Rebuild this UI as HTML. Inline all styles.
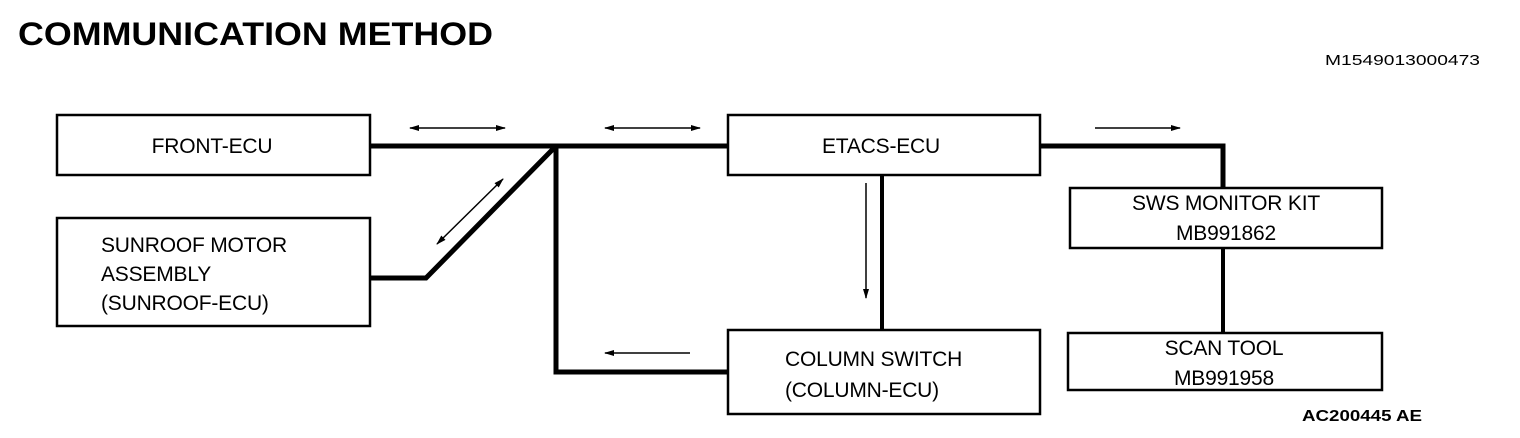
<!DOCTYPE html>
<html><head><style>
body{margin:0;background:#fff;}
svg{display:block;font-family:"Liberation Sans",Arial,sans-serif;}
</style></head><body>
<svg width="1520" height="438" viewBox="0 0 1520 438" xmlns="http://www.w3.org/2000/svg">
<defs>
<marker id="a" markerWidth="10" markerHeight="8" refX="9" refY="4" orient="auto-start-reverse" markerUnits="userSpaceOnUse"><path d="M0,1 L10,4 L0,7 Z" fill="#000"/></marker>
</defs>
<text x="18" y="45" font-size="32" font-weight="bold" textLength="475" lengthAdjust="spacingAndGlyphs">COMMUNICATION METHOD</text>
<text x="1325" y="65" font-size="15" textLength="155" lengthAdjust="spacingAndGlyphs">M1549013000473</text>
<text x="1302" y="421" font-size="16" font-weight="bold" textLength="120" lengthAdjust="spacingAndGlyphs">AC200445 AE</text>
<g fill="none" stroke="#000" stroke-width="2.5">
<rect x="57" y="115" width="313" height="60"/>
<rect x="57" y="218" width="313" height="108"/>
<rect x="728" y="115" width="312" height="60"/>
<rect x="728" y="330" width="312" height="84"/>
<rect x="1070" y="188" width="312" height="60"/>
<rect x="1068" y="333" width="314" height="57"/>
</g>
<g fill="none" stroke="#000" stroke-width="5">
<polyline points="370,146 728,146"/>
<polyline points="370,278 426,278 556,146"/>
<polyline points="556,146 556,372 728,372"/>
<polyline points="1040,146 1223,146 1223,188"/>
</g>
<g fill="none" stroke="#000" stroke-width="4">
<line x1="882" y1="175" x2="882" y2="330"/>
<line x1="1223" y1="248" x2="1223" y2="333"/>
</g>
<g stroke="#000" stroke-width="1.5" fill="none">
<line x1="410" y1="128" x2="505" y2="128" marker-start="url(#a)" marker-end="url(#a)"/>
<line x1="605" y1="128" x2="700" y2="128" marker-start="url(#a)" marker-end="url(#a)"/>
<line x1="1095" y1="128" x2="1180" y2="128" marker-end="url(#a)"/>
<line x1="866" y1="183" x2="866" y2="298" marker-end="url(#a)"/>
<line x1="690" y1="353" x2="605" y2="353" marker-end="url(#a)"/>
<line x1="437" y1="244" x2="503" y2="179" marker-start="url(#a)" marker-end="url(#a)"/>
</g>
<g font-size="21" letter-spacing="-0.2">
<text x="212" y="153" text-anchor="middle">FRONT-ECU</text>
<text x="101" y="252">SUNROOF MOTOR</text>
<text x="101" y="281">ASSEMBLY</text>
<text x="101" y="310">(SUNROOF-ECU)</text>
<text x="881" y="153" text-anchor="middle">ETACS-ECU</text>
<text x="785" y="366">COLUMN SWITCH</text>
<text x="785" y="397">(COLUMN-ECU)</text>
<text x="1226" y="210" text-anchor="middle">SWS MONITOR KIT</text>
<text x="1226" y="240" text-anchor="middle">MB991862</text>
<text x="1224" y="355" text-anchor="middle">SCAN TOOL</text>
<text x="1224" y="385" text-anchor="middle">MB991958</text>
</g>
</svg>
</body></html>
